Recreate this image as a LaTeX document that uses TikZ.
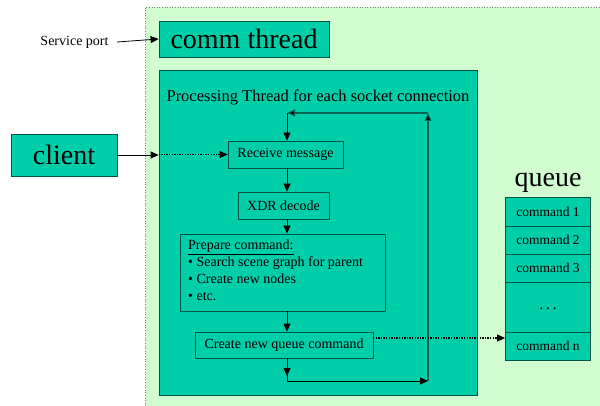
\documentclass[tikz,border=0pt]{standalone}
\usepackage{fontspec}
\setmainfont{Liberation Serif}
\usetikzlibrary{arrows.meta}
\definecolor{teal1}{RGB}{0,206,168}
\definecolor{lightg}{RGB}{208,252,208}
\definecolor{edge}{RGB}{0,85,70}
\definecolor{loopc}{RGB}{0,100,85}
\tikzset{
  box/.style={draw=edge, line width=0.8pt, fill=teal1, inner sep=0pt},
  arr/.style={line width=0.8pt, -{Triangle[length=8pt,width=7pt]}},
  dotarr/.style={line width=1.3pt, dash pattern=on 1.3pt off 1.3pt, -{Triangle[length=8pt,width=7pt,line width=0.8pt]}},
  big/.style={font=\fontsize{28}{30}\selectfont},
  mid/.style={font=\fontsize{14}{17}\selectfont},
  sml/.style={font=\fontsize{13.5}{15}\selectfont},
}
\begin{document}
\begin{tikzpicture}[x=1pt,y=-1pt]
\useasboundingbox (0,0) rectangle (600,406);
% background region
\fill[lightg] (145,7) rectangle (600,406);
\draw[gray, dotted, line width=0.6pt] (145,406) -- (145,7) -- (600,7);
% nodes
\node[box, big, minimum width=170pt, minimum height=36pt] (comm) at (244,39) {comm thread};
\node[mid] (sp) at (74.5,42) {Service port};
\node[box, minimum width=318pt, minimum height=325pt] (proc) at (318,232.5) {};
\node[font=\fontsize{16.5}{18}\selectfont] (ptitle) at (318,97) {Processing Thread for each socket connection};
\node[box, big, minimum width=106pt, minimum height=42pt] (client) at (64,155) {client};
\node[box, mid, minimum width=115pt, minimum height=27pt] (recv) at (285.5,154.5) {Receive message};
\node[box, mid, minimum width=91pt, minimum height=27pt] (xdr) at (283.5,205.5) {XDR decode};
\node[box, minimum width=205pt, minimum height=77pt] (prep) at (282.5,272.5) {};
\node[mid, anchor=north west, align=left, inner sep=0pt] (preptext) at (188,239.5)
  {\underline{Prepare command:}\\ • Search scene graph for parent\\ • Create new nodes\\ • etc.};
\node[box, mid, minimum width=178pt, minimum height=26pt] (create) at (284,345) {Create new queue command};
% queue
\node[big] (qlabel) at (548,183) {queue};
\node[box, sml, minimum width=85pt, minimum height=29pt] (c1) at (548,211.5) {command 1};
\node[box, sml, minimum width=85pt, minimum height=28pt] (c2) at (548,240) {command 2};
\node[box, sml, minimum width=85pt, minimum height=28pt] (c3) at (548,268) {command 3};
\node[box, minimum width=85pt, minimum height=50pt] (cd) at (548,307) {};
\node[font=\fontsize{16}{18}\selectfont, inner sep=0pt] (cdtext) at (548,309) {.\,.\,.};
\node[box, sml, minimum width=85pt, minimum height=28pt] (cn) at (548,346) {command n};
% flow coordinates
\coordinate (fx) at (287,0);
\coordinate (b1) at (287,381);
\coordinate (b2) at (428,381);
\coordinate (t2) at (428,113);
\coordinate (t1) at (287,113);
\coordinate (sps) at (117,42);
\coordinate (qs) at (373,338);
% connectors
\draw[arr] (sps) -- (comm.west);
\draw[line width=0.8pt, -{Triangle[length=8pt,width=7pt]}] (client.east) -- (proc.west |- client.east);
\draw[dotarr] (proc.west |- recv.west) -- (recv.west);
\draw[arr] (recv.south -| fx) -- (xdr.north -| fx);
\draw[arr] (xdr.south -| fx) -- (prep.north -| fx);
\draw[arr] (prep.south -| fx) -- (create.north -| fx);
\draw[arr] (create.south -| fx) -- ([yshift=5pt]b1);
\draw[line width=0.8pt] ([yshift=6pt]b1) -- (b1);
\draw[arr] (b1) -- (b2);
\draw[arr, loopc, line width=1.2pt, -{Triangle[length=8pt,width=7pt,fill=black]}] (b2) -- (t2);
\draw[arr, loopc, line width=1.2pt, -{Triangle[length=8pt,width=7pt,fill=black]}] (t2) -- (t1);
\draw[arr] (t1) -- (recv.north -| t1);
\draw[dotarr] (qs) -- (cn.west |- qs);
\end{tikzpicture}
\end{document}
